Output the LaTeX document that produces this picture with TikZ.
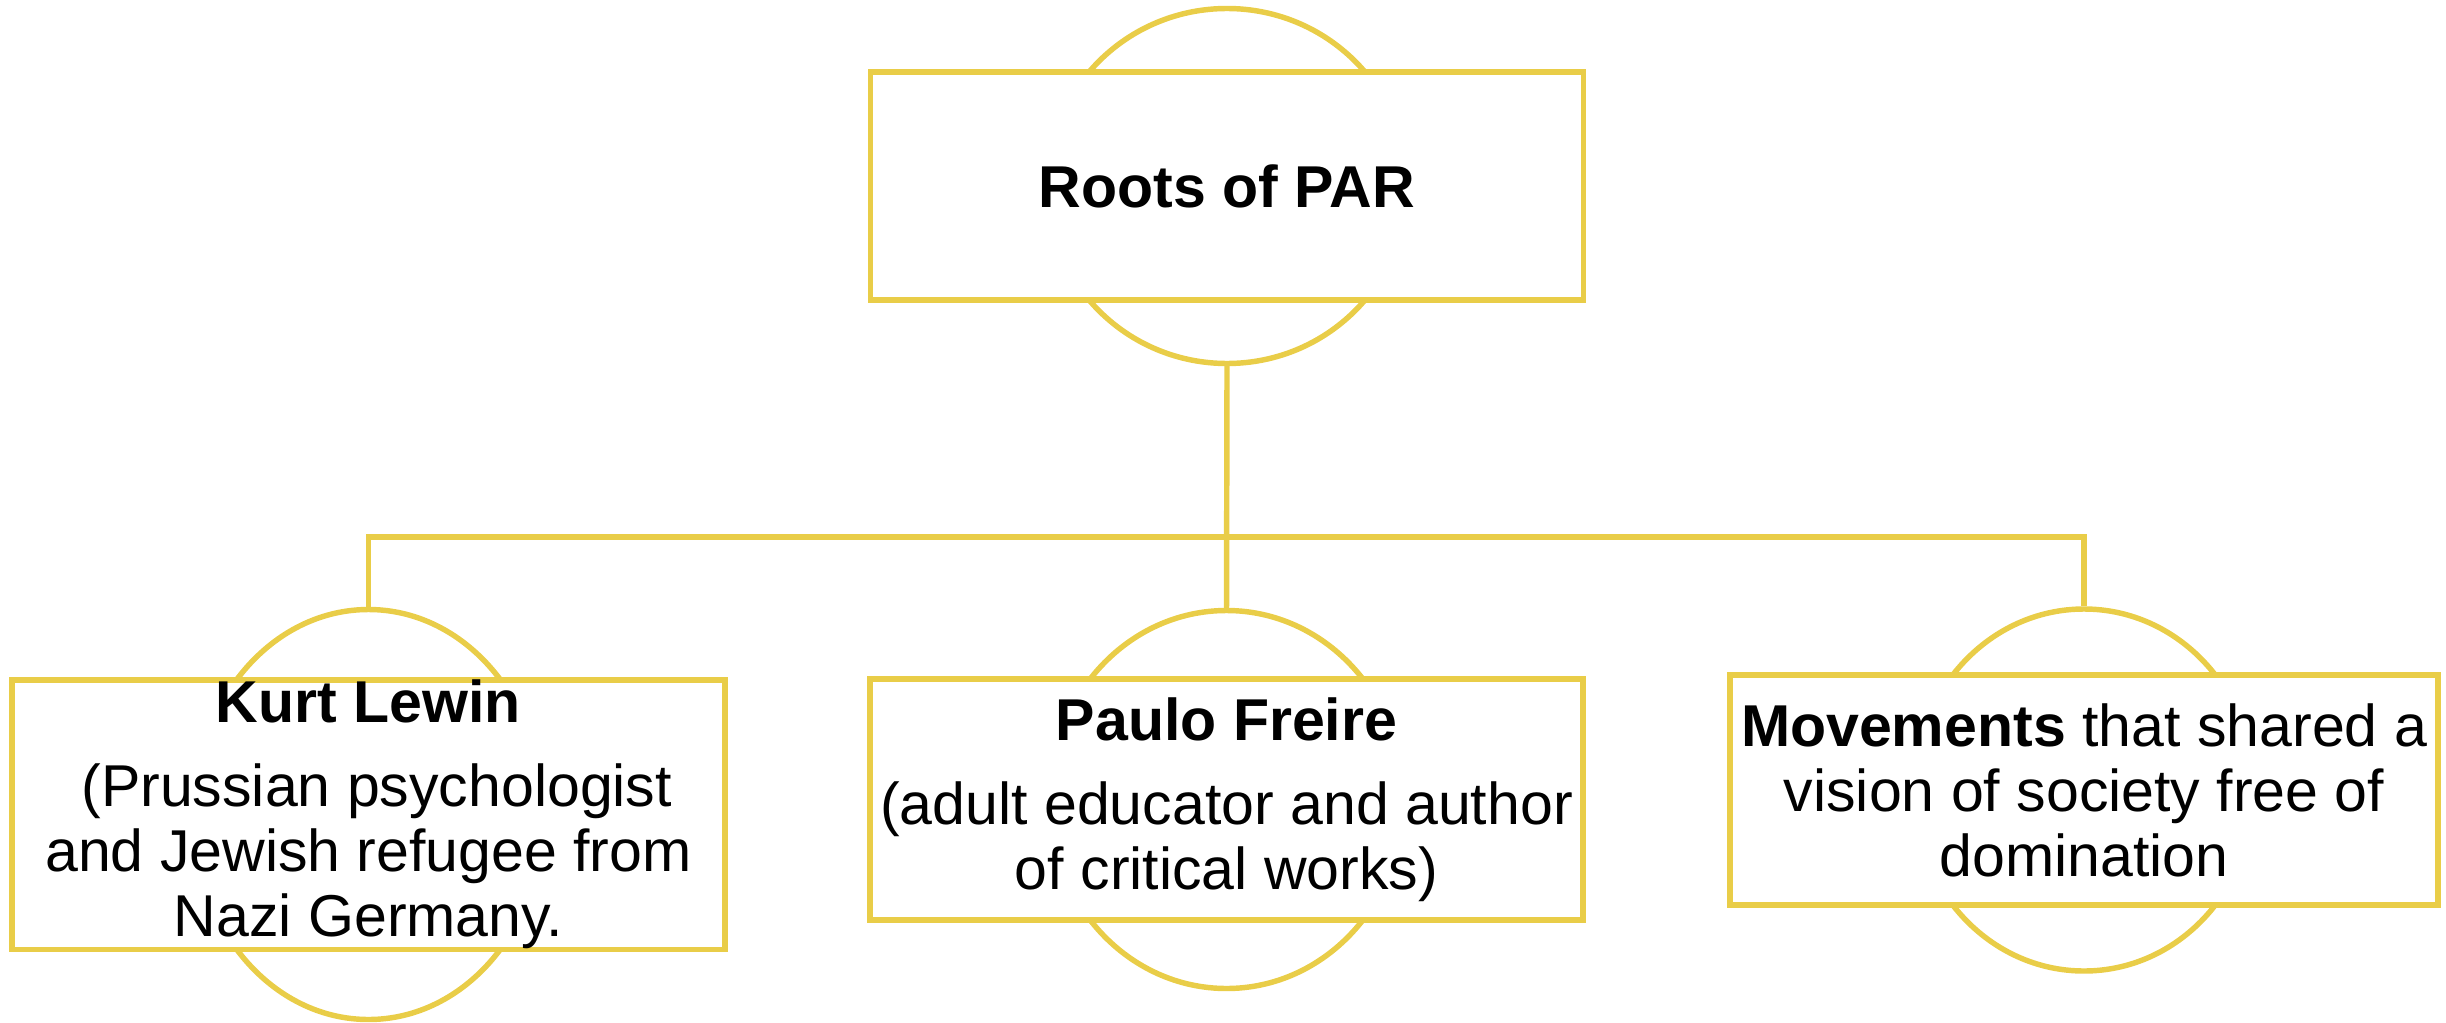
\documentclass[tikz,border=0pt]{standalone}
\usepackage{fontspec}
\setmainfont{Liberation Sans}
\usepackage{tikz}
\usetikzlibrary{shapes.geometric}

\definecolor{pargold}{RGB}{233,205,72}

\begin{document}
\begin{tikzpicture}[line width=1.55pt,
  ring/.style={draw=pargold,ellipse,inner sep=0pt},
  card/.style={draw=pargold,fill=white,rectangle,inner sep=0pt,align=center,
    font=\fontsize{16.8}{18.5}\selectfont},
  wire/.style={draw=pargold}]
\useasboundingbox (0,0) rectangle (24.46,-10.22);
\node (rootring) [ring,minimum width=3.6cm,minimum height=3.55cm] at (12.27,-1.86) {};
\node (lewinring) [ring,minimum width=3.5cm,minimum height=4.1cm] at (3.685,-8.145) {};
\node (freirering) [ring,minimum width=3.54cm,minimum height=3.78cm] at (12.265,-7.995) {};
\node (movering) [ring,minimum width=3.4cm,minimum height=3.62cm] at (20.84,-7.90) {};
\coordinate (bar) at (12.27,-5.37);
\draw[wire] (rootring.south) -- (freirering.north);
\draw[wire] (lewinring.north) |- (bar) -| (movering.north);
\node (root) [card,minimum width=7.13cm,minimum height=2.28cm] at (12.27,-1.86) {\textbf{Roots of PAR}};
\node (lewin) [card,minimum width=7.13cm,minimum height=2.65cm] at (3.685,-8.145)
  {\textbf{Kurt Lewin}\\[5.5pt]\ (Prussian psychologist\\and Jewish refugee from\\Nazi Germany.};
\node (freire) [card,minimum width=7.13cm,minimum height=2.41cm] at (12.265,-7.995)
  {\textbf{Paulo Freire}\\[5.5pt](adult educator and author\\of critical works)};
\node (move) [card,minimum width=7.08cm,minimum height=2.30cm] at (20.84,-7.90)
  {\textbf{Movements} that shared a\\vision of society free of\\domination};
\end{tikzpicture}
\end{document}
